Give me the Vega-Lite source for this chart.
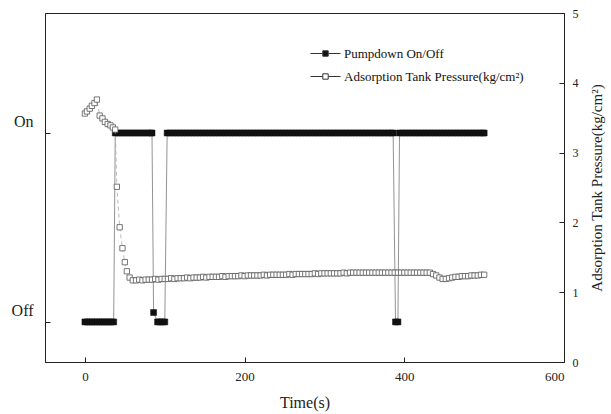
{
 "$schema": "https://vega.github.io/schema/vega-lite/v6.json",
 "width": 519, "height": 349, "autosize": "none",
 "padding": {"left": 45, "top": 13, "right": 47, "bottom": 52},
 "config": {
  "font": "Liberation Serif",
  "view": {"stroke": "#222", "strokeWidth": 1},
  "axis": {"grid": false, "domainColor": "#222", "tickColor": "#222", "labelColor": "#222", "titleColor": "#222", "labelFont": "Liberation Serif", "titleFont": "Liberation Serif", "titleFontWeight": "normal"}
 },
 "datasets": {
  "pump": [
   {"t":0,"v":0},{"t":3,"v":0},{"t":6,"v":0},{"t":9,"v":0},{"t":12,"v":0},{"t":15,"v":0},{"t":18,"v":0},{"t":21,"v":0},{"t":24,"v":0},{"t":27,"v":0},{"t":30,"v":0},{"t":33,"v":0},{"t":36,"v":0},
   {"t":38,"v":1},{"t":42,"v":1},{"t":46,"v":1},{"t":50,"v":1},{"t":54,"v":1},{"t":58,"v":1},{"t":62,"v":1},{"t":66,"v":1},{"t":70,"v":1},{"t":74,"v":1},{"t":78,"v":1},{"t":82,"v":1},{"t":84,"v":1},
   {"t":86,"v":0.05},
   {"t":91,"v":0},{"t":94,"v":0},{"t":97,"v":0},{"t":100,"v":0},
   {"t":103,"v":1},{"t":107,"v":1},{"t":111,"v":1},{"t":115,"v":1},{"t":119,"v":1},{"t":123,"v":1},{"t":127,"v":1},{"t":131,"v":1},{"t":135,"v":1},{"t":139,"v":1},{"t":143,"v":1},{"t":147,"v":1},{"t":151,"v":1},{"t":155,"v":1},{"t":159,"v":1},{"t":163,"v":1},{"t":167,"v":1},{"t":171,"v":1},{"t":175,"v":1},{"t":179,"v":1},{"t":183,"v":1},{"t":187,"v":1},{"t":191,"v":1},{"t":195,"v":1},{"t":199,"v":1},{"t":203,"v":1},{"t":207,"v":1},{"t":211,"v":1},{"t":215,"v":1},{"t":219,"v":1},{"t":223,"v":1},{"t":227,"v":1},{"t":231,"v":1},{"t":235,"v":1},{"t":239,"v":1},{"t":243,"v":1},{"t":247,"v":1},{"t":251,"v":1},{"t":255,"v":1},{"t":259,"v":1},{"t":263,"v":1},{"t":267,"v":1},{"t":271,"v":1},{"t":275,"v":1},{"t":279,"v":1},{"t":283,"v":1},{"t":287,"v":1},{"t":291,"v":1},{"t":295,"v":1},{"t":299,"v":1},{"t":303,"v":1},{"t":307,"v":1},{"t":311,"v":1},{"t":315,"v":1},{"t":319,"v":1},{"t":323,"v":1},{"t":327,"v":1},{"t":331,"v":1},{"t":335,"v":1},{"t":339,"v":1},{"t":343,"v":1},{"t":347,"v":1},{"t":351,"v":1},{"t":355,"v":1},{"t":359,"v":1},{"t":363,"v":1},{"t":367,"v":1},{"t":371,"v":1},{"t":375,"v":1},{"t":379,"v":1},{"t":383,"v":1},{"t":386,"v":1},
   {"t":389,"v":0},{"t":392,"v":0},
   {"t":394,"v":1},{"t":398,"v":1},{"t":402,"v":1},{"t":406,"v":1},{"t":410,"v":1},{"t":414,"v":1},{"t":418,"v":1},{"t":422,"v":1},{"t":426,"v":1},{"t":430,"v":1},{"t":434,"v":1},{"t":438,"v":1},{"t":442,"v":1},{"t":446,"v":1},{"t":450,"v":1},{"t":454,"v":1},{"t":458,"v":1},{"t":462,"v":1},{"t":466,"v":1},{"t":470,"v":1},{"t":474,"v":1},{"t":478,"v":1},{"t":482,"v":1},{"t":486,"v":1},{"t":490,"v":1},{"t":494,"v":1},{"t":498,"v":1},{"t":500,"v":1}
  ],
  "pres": [
   {"t":0,"p":3.56},{"t":2.5,"p":3.59},{"t":6,"p":3.63},{"t":8.7,"p":3.67},{"t":12,"p":3.71},{"t":15,"p":3.76},
   {"t":18.5,"p":3.53},{"t":22,"p":3.49},{"t":25,"p":3.44},{"t":28.5,"p":3.41},{"t":32,"p":3.39},{"t":35,"p":3.36},{"t":38,"p":3.33},
   {"t":40,"p":2.51},{"t":43.5,"p":1.93},{"t":47,"p":1.63},{"t":50,"p":1.43},{"t":52.5,"p":1.3},{"t":56,"p":1.21},
   {"t":60,"p":1.17},{"t":64,"p":1.17},{"t":68,"p":1.18},{"t":72,"p":1.17},{"t":76,"p":1.18},{"t":80,"p":1.18},{"t":84,"p":1.18},{"t":88,"p":1.19},{"t":92,"p":1.18},{"t":96,"p":1.19},{"t":100,"p":1.19},{"t":104,"p":1.19},{"t":108,"p":1.2},{"t":112,"p":1.19},{"t":116,"p":1.2},{"t":120,"p":1.2},{"t":124,"p":1.2},{"t":128,"p":1.21},{"t":132,"p":1.2},{"t":136,"p":1.21},{"t":140,"p":1.21},{"t":144,"p":1.21},{"t":148,"p":1.22},{"t":152,"p":1.21},{"t":156,"p":1.22},{"t":160,"p":1.22},{"t":164,"p":1.22},{"t":168,"p":1.22},{"t":172,"p":1.23},{"t":176,"p":1.22},{"t":180,"p":1.23},{"t":184,"p":1.23},{"t":188,"p":1.23},{"t":192,"p":1.23},{"t":196,"p":1.24},{"t":200,"p":1.23},{"t":204,"p":1.24},{"t":208,"p":1.24},{"t":212,"p":1.24},{"t":216,"p":1.24},{"t":220,"p":1.24},{"t":224,"p":1.25},{"t":228,"p":1.24},{"t":232,"p":1.25},{"t":236,"p":1.25},{"t":240,"p":1.25},{"t":244,"p":1.25},{"t":248,"p":1.25},{"t":252,"p":1.25},{"t":256,"p":1.26},{"t":260,"p":1.25},{"t":264,"p":1.26},{"t":268,"p":1.26},{"t":272,"p":1.26},{"t":276,"p":1.26},{"t":280,"p":1.26},{"t":284,"p":1.26},{"t":288,"p":1.27},{"t":292,"p":1.26},{"t":296,"p":1.27},{"t":300,"p":1.27},{"t":304,"p":1.27},{"t":308,"p":1.27},{"t":312,"p":1.27},{"t":316,"p":1.27},{"t":320,"p":1.27},{"t":324,"p":1.28},{"t":328,"p":1.27},{"t":332,"p":1.28},{"t":336,"p":1.28},{"t":340,"p":1.28},{"t":344,"p":1.28},{"t":348,"p":1.28},{"t":352,"p":1.28},{"t":356,"p":1.28},{"t":360,"p":1.28},{"t":364,"p":1.28},{"t":368,"p":1.28},{"t":372,"p":1.28},{"t":376,"p":1.28},{"t":380,"p":1.28},{"t":384,"p":1.28},{"t":388,"p":1.28},{"t":392,"p":1.28},{"t":396,"p":1.28},{"t":400,"p":1.28},{"t":404,"p":1.28},{"t":408,"p":1.28},{"t":412,"p":1.28},{"t":416,"p":1.28},{"t":420,"p":1.28},{"t":424,"p":1.28},{"t":428,"p":1.28},{"t":432,"p":1.28},{"t":436,"p":1.26},{"t":440,"p":1.24},{"t":444,"p":1.21},{"t":448,"p":1.19},{"t":452,"p":1.19},{"t":456,"p":1.2},{"t":460,"p":1.21},{"t":464,"p":1.22},{"t":468,"p":1.22},{"t":472,"p":1.23},{"t":476,"p":1.23},{"t":480,"p":1.23},{"t":484,"p":1.24},{"t":488,"p":1.24},{"t":492,"p":1.24},{"t":496,"p":1.25},{"t":500,"p":1.25}
  ]
 },
 "layer": [
  {
   "data": {"name": "pump"},
   "encoding": {
    "x": {"field": "t", "type": "quantitative", "scale": {"domain": [-50, 600], "nice": false, "zero": false},
     "axis": {"values": [0, 200, 400, 600], "title": "Time(s)", "tickSize": -5, "labelPadding": 13, "labelFontSize": 13, "titleFontSize": 16, "titlePadding": 11}},
    "y": {"field": "v", "type": "quantitative", "scale": {"domain": [-0.212, 1.635], "nice": false, "zero": false},
     "axis": {"orient": "left", "values": [0, 1], "labelExpr": "datum.value == 1 ? 'On' : 'Off'", "title": null, "tickSize": -5, "labelPadding": 17, "labelOffset": -11, "labelFontSize": 16}}
   },
   "layer": [
    {"mark": {"type": "line", "color": "#777", "strokeWidth": 0.8}},
    {"mark": {"type": "point", "shape": "square", "filled": true, "size": 36, "opacity": 1, "stroke": "#111", "strokeWidth": 0.5},
     "encoding": {"fill": {"datum": "Pumpdown On/Off", "type": "nominal",
      "scale": {"domain": ["Pumpdown On/Off", "Adsorption Tank Pressure(kg/cm²)"], "range": ["#111", "#ffffff"]},
      "legend": {"title": null, "orient": "none", "legendX": 265, "legendY": 25, "symbolType": "M-1,0H-0.18M0.18,0H1M-0.18,-0.18H0.18V0.18H-0.18Z", "symbolSize": 900, "symbolStrokeColor": "#333", "symbolStrokeWidth": 1, "labelFontSize": 13, "labelFont": "Liberation Serif", "labelColor": "#111", "rowPadding": -10, "labelOffset": 3, "labelLimit": 400}}}}
   ]
  },
  {
   "data": {"name": "pres"},
   "encoding": {
    "x": {"field": "t", "type": "quantitative"},
    "y": {"field": "p", "type": "quantitative", "scale": {"domain": [0, 5], "nice": false},
     "axis": {"orient": "right", "values": [0, 1, 2, 3, 4, 5], "title": "Adsorption Tank Pressure(kg/cm²)", "titleAngle": 270, "tickSize": -5, "labelPadding": 13, "labelFontSize": 12, "titleFontSize": 15, "titlePadding": 26}}
   },
   "layer": [
    {"mark": {"type": "line", "color": "#aaa", "strokeWidth": 0.8, "strokeDash": [4, 3]}},
    {"mark": {"type": "point", "shape": "square", "filled": true, "size": 28, "opacity": 1, "stroke": "#555", "strokeWidth": 0.8},
     "encoding": {"fill": {"datum": "Adsorption Tank Pressure(kg/cm²)", "type": "nominal"}}}
   ]
  }
 ],
 "resolve": {"scale": {"y": "independent"}}
}
